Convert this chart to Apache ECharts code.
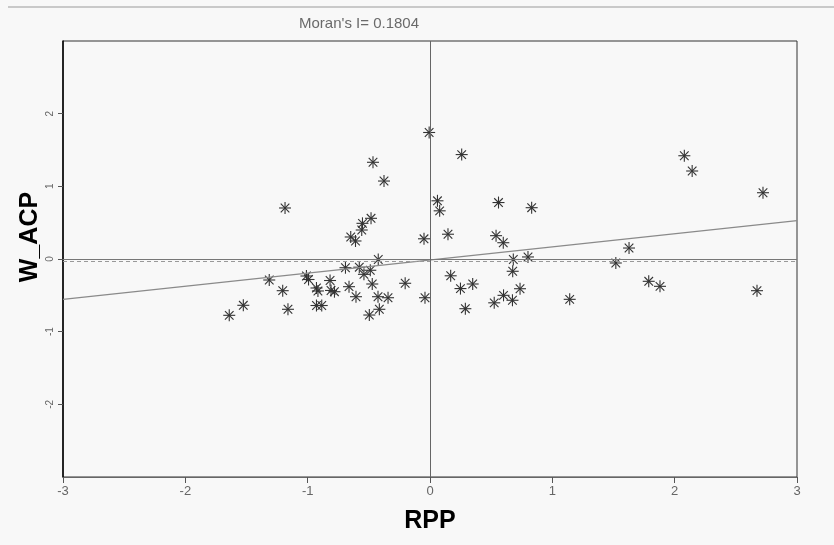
<!DOCTYPE html>
<html>
<head>
<meta charset="utf-8">
<script src="https://cdn.jsdelivr.net/npm/echarts@6/dist/echarts.min.js"></script>
<style>
  html, body { margin: 0; padding: 0; background: #f8f8f8; }
  #chart { width: 834px; height: 545px; }
</style>
</head>
<body>
<div id="chart"></div>
<script>
// Moran scatter plot: RPP vs spatially lagged ACP
const rpp = [
  -1.641, -1.526, -1.314, -1.204, -1.185, -1.161, -1.010, -0.993, -0.928, -0.916,
  -0.928, -0.885, -0.817, -0.809, -0.781, -0.691, -0.662, -0.648, -0.609, -0.605,
  -0.578, -0.558, -0.552, -0.540, -0.496, -0.488, -0.482, -0.472, -0.466, -0.425,
  -0.423, -0.414, -0.376, -0.343, -0.203, -0.049, -0.041, -0.007, 0.061, 0.079,
  0.147, 0.169, 0.249, 0.259, 0.289, 0.349, 0.525, 0.540, 0.560, 0.599,
  0.601, 0.674, 0.676, 0.681, 0.736, 0.801, 0.831, 1.142, 1.519, 1.627,
  1.788, 1.880, 2.079, 2.143, 2.673, 2.722
];
const wAcp = [
  -0.775, -0.637, -0.289, -0.436, 0.702, -0.692, -0.234, -0.282, -0.399, -0.440,
  -0.640, -0.640, -0.296, -0.433, -0.450, -0.120, -0.381, 0.303, 0.248, -0.519,
  -0.113, 0.399, 0.491, -0.211, -0.771, -0.155, 0.560, -0.344, 1.331, -0.519,
  -0.007, -0.692, 1.073, -0.533, -0.334, 0.278, -0.533, 1.741, 0.801, 0.663,
  0.341, -0.231, -0.407, 1.437, -0.684, -0.344, -0.603, 0.321, 0.777, 0.224,
  -0.500, -0.568, -0.169, -0.007, -0.409, 0.028, 0.706, -0.555, -0.055, 0.151,
  -0.307, -0.376, 1.421, 1.211, -0.436, 0.912
];
const xTicks = [-3, -2, -1, 0, 1, 2, 3];
const moranI = 0.1804;
const regIntercept = -0.014;
const meanLag = -0.025;

const points = rpp.map((x, i) => [x, wAcp[i]]);
const regLine = [xTicks[0], xTicks[xTicks.length - 1]].map((x) => [x, regIntercept + moranI * x]);

const myChart = echarts.init(document.getElementById("chart"));

const FONT = "'Liberation Sans Narrow', 'Liberation Sans', Arial, sans-serif";

const option = {
  backgroundColor: "#f8f8f8",
  animation: false,
  title: {
    text: "Moran's I= " + moranI.toFixed(4),
    left: 294,
    top: 11,
    textStyle: { fontFamily: FONT, fontSize: 15, fontWeight: "normal", color: "#6a6a6a" },
  },
  graphic: [
    {
      type: "line",
      shape: { x1: 8, y1: 7, x2: 834, y2: 7 },
      style: { stroke: "#9a9a9a", lineWidth: 1 },
    },
    {
      type: "text",
      x: 30,
      y: 237,
      rotation: Math.PI / 2,
      style: {
        text: "W_ACP",
        fontFamily: FONT,
        fontSize: 25,
        fontWeight: "bold",
        fill: "#000",
        align: "center",
        verticalAlign: "middle",
      },
    },
  ],
  grid: {
    left: 63,
    right: 37,
    top: 41,
    bottom: 68,
    show: true,
    borderColor: "#333",
    borderWidth: 1,
    backgroundColor: "transparent",
  },
  xAxis: {
    type: "value",
    min: -3,
    max: 3,
    interval: 1,
    name: "RPP",
    nameLocation: "middle",
    nameGap: 32,
    nameTextStyle: { fontFamily: FONT, fontSize: 25, fontWeight: "bold", color: "#000" },
    axisLine: { show: true, onZero: false, lineStyle: { color: "#666", width: 1 } },
    axisTick: { show: true, inside: false, length: 6, lineStyle: { color: "#555" } },
    axisLabel: {
      fontFamily: FONT,
      fontSize: 13,
      color: "#666",
      margin: 8,
      formatter: (v) => (xTicks.includes(v) ? String(v) : ""),
    },
    splitLine: { show: false },
  },
  yAxis: {
    type: "value",
    min: -3,
    max: 3,
    interval: 1,
    axisLine: { show: true, onZero: false, lineStyle: { color: "#000", width: 1.5 } },
    axisTick: { show: true, inside: false, length: 5, lineStyle: { color: "#555" } },
    axisLabel: {
      fontFamily: FONT,
      fontSize: 10,
      color: "#666",
      rotate: 90,
      margin: 8,
      showMinLabel: false,
      showMaxLabel: false,
    },
    splitLine: { show: false },
  },
  series: [
    {
      name: "fit",
      type: "line",
      data: regLine,
      symbol: "none",
      silent: true,
      lineStyle: { color: "#8a8a8a", width: 1.2 },
      markLine: {
        silent: true,
        symbol: "none",
        label: { show: false },
        data: [
          { yAxis: 0, lineStyle: { color: "#777", width: 1, type: "solid" } },
          { yAxis: meanLag, lineStyle: { color: "#999", width: 1, type: [4, 3] } },
          { xAxis: 0, lineStyle: { color: "#666", width: 1, type: "solid" } },
        ],
      },
    },
    {
      name: "obs",
      type: "custom",
      data: points,
      clip: true,
      renderItem: function (params, api) {
        const p = api.coord([api.value(0), api.value(1)]);
        const r = 6;
        const d = 4.3;
        const style = { stroke: "#333", lineWidth: 1.1 };
        return {
          type: "group",
          children: [
            { type: "line", shape: { x1: p[0] - r, y1: p[1], x2: p[0] + r, y2: p[1] }, style },
            { type: "line", shape: { x1: p[0], y1: p[1] - r, x2: p[0], y2: p[1] + r }, style },
            { type: "line", shape: { x1: p[0] - d, y1: p[1] - d, x2: p[0] + d, y2: p[1] + d }, style },
            { type: "line", shape: { x1: p[0] - d, y1: p[1] + d, x2: p[0] + d, y2: p[1] - d }, style },
          ],
        };
      },
    },
  ],
};

myChart.setOption(option);
</script>
</body>
</html>
